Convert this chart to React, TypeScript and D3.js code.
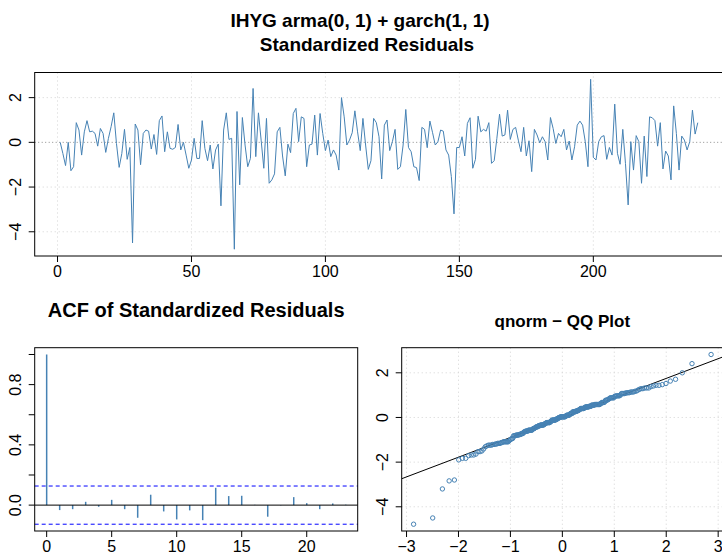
import React from "react";
import * as d3 from "d3";

// Standardized residuals, t = 1..239
const residuals: number[] = [
  0, -0.5, -1.04, 0, -1.27, -1.09, 0.88, 0.55, -0.57, 0.47,
  0.97, 0.47, 0.5, 0.4, -0.17, 0.62, 0.4, -0.45, 0.18, 0.7,
  1.32, -0.05, -1.12, -0.5, 0.58, -0.76, -0.23, -4.5, 0.82, 0.55,
  -1.0, 0.4, 0.55, 0.5, -0.3, 0.35, -0.54, 0.97, 1.18, -0.42,
  0.47, -0.27, -0.31, -0.23, 0.8, -0.34, 0, -0.57, -1.16, -0.79,
  0.18, -0.72, -0.72, 0.97, -0.27, -0.82, -0.12, -1.19, -0.34, -0.08,
  -2.84, 0.55, 1.32, 0.13, 0.18, -4.78, 1.38, -1.9, 1.11, -0.12,
  -1.09, -0.72, 2.41, -0.64, 1.32, 0.1, -1.16, 1.07, -1.83, -1.68,
  -1.41, 0.47, 0.67, -0.61, -1.5, -0.08, -0.46, 1.29, 1.52, 0.03,
  1.14, 1.07, -1.09, -0.12, -0.08, 1.22, -0.57, 1.29, 0.4, -0.37,
  0.1, -0.64, -0.34, -0.57, -1.24, 2.0, 1.14, -0.12, 0.1, 0.43,
  1.41, 0.47, -0.37, 1.07, -0.12, -1.21, -0.82, 1.07, 0.88, 0.25,
  -1.64, 0.77, 1.0, -0.37, 0.03, 0.58, -1.21, -1.09, -0.12, 1.47,
  -0.23, -0.42, -1.09, -1.13, -1.71, 0.67, 0.58, -0.24, 0.95, 0.43,
  -0.12, 0.03, 0.55, 0.5, -0.34, -0.57, -1.53, -3.2, -0.23, -0.23,
  0.25, -0.61, 0.85, 1.1, -1.16, -0.76, 1.17, 0.47, 0.58, 0.5,
  0.88, -0.94, -0.82, 0.18, 1.26, 0.28, 0.33, 1.44, 0.13, 0.58,
  0.67, 0.1, -0.42, 0.67, -0.61, 0.07, -1.31, 0.58, 0.33, -0.02,
  0.25, 0.03, -0.79, 1.11, 0.62, -0.05, 0.4, 0.25, 0.58, -0.34,
  0.06, -0.79, -0.2, 0.77, 0.95, 0.77, 0.03, -1.09, 2.82, -0.67,
  -0.79, 0.03, 0.25, 0.3, -0.76, -0.23, -0.57, 1.71, -0.49, -0.98,
  0.58, -0.94, -2.8, 0.03, -1.24, 0.3, 0.03, -1.83, 0.28, -1.53,
  1.14, 1.1, 0.97, -0.17, 0.88, -1.19, -0.39, -0.61, -1.68, 1.63,
  0.4, -1.24, 0.28, 0.1, -0.34, 0.03, 1.44, 0.37, 0.88,
];

// ACF values at lags 0..23
const acfValues: number[] = [
  1.0, -0.033, -0.027, 0.022, -0.011, 0.035, -0.027, -0.084, 0.069, -0.042,
  -0.095, -0.035, -0.1, 0.115, 0.06, 0.062, 0.002, -0.077, -0.002, 0.053,
  0.013, -0.027, 0.011, 0.003,
];

const mainTitle1 = "IHYG arma(0, 1) + garch(1, 1)";
const mainTitle2 = "Standardized Residuals";
const acfTitle = "ACF of Standardized Residuals";
const qqTitle = "qnorm \u2212 QQ Plot";

const topXTicks = [0, 50, 100, 150, 200];
const topYTicks = [-4, -2, 0, 2];
const acfXTicks = [0, 5, 10, 15, 20];
const acfYTicks = [0, 0.2, 0.4, 0.6, 0.8, 1.0];
const acfYLabelled = [0, 0.4, 0.8];
const qqXTicks = [-3, -2, -1, 0, 1, 2, 3];
const qqYTicks = [-4, -2, 0, 2];

const FONT = "'Liberation Sans', Arial, Helvetica, sans-serif";
const LINE = "#4682b4";
const GRID = "#d3d3d3";

function qnorm(p: number): number {
  const a = [-3.969683028665376e1, 2.209460984245205e2, -2.759285104469687e2, 1.38357751867269e2, -3.066479806614716e1, 2.506628277459239];
  const b = [-5.447609879822406e1, 1.615858368580409e2, -1.556989798598866e2, 6.680131188771972e1, -1.328068155288572e1];
  const c = [-7.784894002430293e-3, -3.223964580411365e-1, -2.400758277161838, -2.549732539343734, 4.374664141464968, 2.938163982698783];
  const d = [7.784695709041462e-3, 3.224671290700398e-1, 2.445134137142996, 3.754408661907416];
  const plow = 0.02425;
  if (p < plow) {
    const q = Math.sqrt(-2 * Math.log(p));
    return (((((c[0] * q + c[1]) * q + c[2]) * q + c[3]) * q + c[4]) * q + c[5]) / ((((d[0] * q + d[1]) * q + d[2]) * q + d[3]) * q + 1);
  }
  if (p <= 1 - plow) {
    const q = p - 0.5;
    const r = q * q;
    return ((((((a[0] * r + a[1]) * r + a[2]) * r + a[3]) * r + a[4]) * r + a[5]) * q) / (((((b[0] * r + b[1]) * r + b[2]) * r + b[3]) * r + b[4]) * r + 1);
  }
  const q = Math.sqrt(-2 * Math.log(1 - p));
  return -(((((c[0] * q + c[1]) * q + c[2]) * q + c[3]) * q + c[4]) * q + c[5]) / ((((d[0] * q + d[1]) * q + d[2]) * q + d[3]) * q + 1);
}

function ext(lo: number, hi: number): [number, number] {
  const r = hi - lo;
  return [lo - 0.04 * r, hi + 0.04 * r];
}

const TICK = 6;
const TICK_FS = 16;

export default function App() {
  const n = residuals.length;
  const [ymin, ymax] = d3.extent(residuals) as [number, number];

  // Top panel
  const top = { l: 34.7, r: 723.3, t: 72.5, b: 256 };
  const tx = d3.scaleLinear().domain(ext(1, n)).range([top.l, top.r]);
  const ty = d3.scaleLinear().domain(ext(ymin, ymax)).range([top.b, top.t]);
  const linePath = d3
    .line<number>()
    .x((_, i) => tx(i + 1))
    .y((v) => ty(v))(residuals) as string;

  // ACF panel
  const acf = { l: 34.7, r: 357.7, t: 347.7, b: 531 };
  const clim = 1.96 / Math.sqrt(n);
  const ax = d3.scaleLinear().domain(ext(0, acfValues.length - 1)).range([acf.l, acf.r]);
  const ay = d3
    .scaleLinear()
    .domain(ext(Math.min(-clim, d3.min(acfValues) as number), Math.max(clim, d3.max(acfValues) as number)))
    .range([acf.b, acf.t]);

  // QQ panel
  const qq = { l: 401.7, r: 723, t: 347.7, b: 531 };
  const sorted = [...residuals].sort((a, b) => a - b);
  const theo = sorted.map((_, i) => qnorm((i + 1 - 0.5) / n));
  const qx = d3.scaleLinear().domain(ext(theo[0], theo[n - 1])).range([qq.l, qq.r]);
  const qy = d3.scaleLinear().domain(ext(ymin, ymax)).range([qq.b, qq.t]);
  const y1 = d3.quantile(sorted, 0.25) as number;
  const y2 = d3.quantile(sorted, 0.75) as number;
  const x1 = qnorm(0.25);
  const x2 = qnorm(0.75);
  const slope = (y2 - y1) / (x2 - x1);
  const intercept = y1 - slope * x1;
  const [qxd0, qxd1] = qx.domain();

  const xTickLabels = (ticks: number[], sc: (v: number) => number, b: number, fmt: (v: number) => string) =>
    ticks.map((t) => (
      <g key={"xt" + t}>
        <line x1={sc(t)} x2={sc(t)} y1={b} y2={b + TICK} stroke="#000" />
        <text x={sc(t)} y={b + 21} textAnchor="middle" fontSize={TICK_FS} fontFamily={FONT}>
          {fmt(t)}
        </text>
      </g>
    ));

  const yTicks = (ticks: number[], labelled: number[], sc: (v: number) => number, l: number, fmt: (v: number) => string) =>
    ticks.map((t) => (
      <g key={"yt" + t}>
        <line x1={l - TICK} x2={l} y1={sc(t)} y2={sc(t)} stroke="#000" />
        {labelled.includes(t) && (
          <text
            transform={`translate(${l - 14},${sc(t)}) rotate(-90)`}
            textAnchor="middle"
            fontSize={TICK_FS}
            fontFamily={FONT}
          >
            {fmt(t)}
          </text>
        )}
      </g>
    ));

  const minusFmt = (v: number) => (v < 0 ? "\u2212" + Math.abs(v) : String(v));

  return (
    <svg width={722} height={557} style={{ position: "absolute", left: 0, top: 0, background: "#fff" }}>
      <defs>
        <clipPath id="clipTop">
          <rect x={top.l} y={top.t} width={top.r - top.l} height={top.b - top.t} />
        </clipPath>
        <clipPath id="clipQQ">
          <rect x={qq.l} y={qq.t} width={qq.r - qq.l} height={qq.b - qq.t} />
        </clipPath>
      </defs>
      <rect x={0} y={0} width={722} height={557} fill="#fff" />

      {/* Main title */}
      <text x={360} y={27} textAnchor="middle" fontSize={19} fontWeight="bold" fontFamily={FONT}>
        {mainTitle1}
      </text>
      <text x={367} y={51} textAnchor="middle" fontSize={19} fontWeight="bold" fontFamily={FONT}>
        {mainTitle2}
      </text>

      {/* Top panel grid */}
      {topXTicks.map((t) => (
        <line key={"tgx" + t} x1={tx(t)} x2={tx(t)} y1={top.t} y2={top.b} stroke={GRID} strokeDasharray="1,3" />
      ))}
      {topYTicks.filter((t) => t !== 0).map((t) => (
        <line key={"tgy" + t} x1={top.l} x2={top.r} y1={ty(t)} y2={ty(t)} stroke={GRID} strokeDasharray="1,3" />
      ))}
      <line x1={top.l} x2={top.r} y1={ty(0)} y2={ty(0)} stroke="#8c8c8c" strokeDasharray="1,2.5" />
      <path d={linePath} fill="none" stroke={LINE} strokeWidth={1} clipPath="url(#clipTop)" />
      <rect x={top.l} y={top.t} width={top.r - top.l} height={top.b - top.t} fill="none" stroke="#000" />
      {xTickLabels(topXTicks, tx, top.b, String)}
      {yTicks(topYTicks, topYTicks, ty, top.l, minusFmt)}

      {/* ACF panel */}
      <text x={(acf.l + acf.r) / 2} y={317} textAnchor="middle" fontSize={20} fontWeight="bold" fontFamily={FONT}>
        {acfTitle}
      </text>
      {acfValues.map((v, i) => (
        <line key={"acf" + i} x1={ax(i)} x2={ax(i)} y1={ay(0)} y2={ay(v)} stroke={LINE} strokeWidth={1.5} />
      ))}
      <line x1={acf.l} x2={acf.r} y1={ay(0)} y2={ay(0)} stroke="#000" />
      <line x1={acf.l} x2={acf.r} y1={ay(clim)} y2={ay(clim)} stroke="#0000ff" strokeDasharray="4,3" />
      <line x1={acf.l} x2={acf.r} y1={ay(-clim)} y2={ay(-clim)} stroke="#0000ff" strokeDasharray="4,3" />
      <rect x={acf.l} y={acf.t} width={acf.r - acf.l} height={acf.b - acf.t} fill="none" stroke="#000" />
      {xTickLabels(acfXTicks, ax, acf.b, String)}
      {yTicks(acfYTicks, acfYLabelled, ay, acf.l, (v) => v.toFixed(1))}

      {/* QQ panel */}
      <text x={(qq.l + qq.r) / 2} y={327} textAnchor="middle" fontSize={17} fontWeight="bold" fontFamily={FONT}>
        {qqTitle}
      </text>
      {qqXTicks.map((t) => (
        <line key={"qgx" + t} x1={qx(t)} x2={qx(t)} y1={qq.t} y2={qq.b} stroke={GRID} strokeDasharray="1,3" />
      ))}
      {qqYTicks.map((t) => (
        <line key={"qgy" + t} x1={qq.l} x2={qq.r} y1={qy(t)} y2={qy(t)} stroke={GRID} strokeDasharray="1,3" />
      ))}
      <line
        x1={qx(qxd0)}
        x2={qx(qxd1)}
        y1={qy(intercept + slope * qxd0)}
        y2={qy(intercept + slope * qxd1)}
        stroke="#000"
        clipPath="url(#clipQQ)"
      />
      {sorted.map((v, i) => (
        <circle key={"qp" + i} cx={qx(theo[i])} cy={qy(v)} r={2.2} fill="none" stroke={LINE} strokeWidth={1} />
      ))}
      <rect x={qq.l} y={qq.t} width={qq.r - qq.l} height={qq.b - qq.t} fill="none" stroke="#000" />
      {xTickLabels(qqXTicks, qx, qq.b, minusFmt)}
      {yTicks(qqYTicks, qqYTicks, qy, qq.l, minusFmt)}
    </svg>
  );
}
